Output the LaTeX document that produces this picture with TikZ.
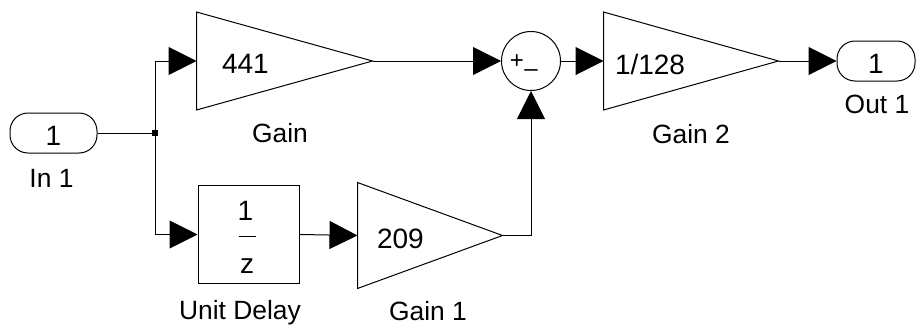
\documentclass[tikz,border=0pt]{standalone}
\usepackage{fontspec}
\setmainfont{Liberation Sans}
\usetikzlibrary{arrows.meta}
\begin{document}
\begin{tikzpicture}[x=0.5pt,y=-0.5pt,line width=0.5pt,
  arr/.style={-{Triangle[length=14pt,width=14pt]}},
  blockbox/.style={inner sep=0pt,draw=none},
  blocktext/.style={inner sep=0pt,font=\fontsize{14}{16}\selectfont},
  port/.style={draw,rounded corners=9pt,inner sep=0pt,minimum height=20pt,font=\fontsize{14}{16}\selectfont},
  lbl/.style={inner sep=0pt,anchor=base,font=\fontsize{13.2}{15}\selectfont},
  sgn/.style={inner sep=0pt,font=\fontsize{12}{14}\selectfont}]
\useasboundingbox (0,0) rectangle (917,327);

% inport
\node[port,minimum width=43.5pt] (in1) at (53.5,133) {};
\node[blocktext,yshift=-1.5pt] (in1txt) at (in1.center) {1};
\node[lbl] (in1lbl) at (51.5,187) {In 1};

% junction
\node[fill,inner sep=0pt,minimum size=3pt] (j) at (155,133) {};

% Gain
\node[blockbox,minimum width=87.5pt,minimum height=48.5pt] (gain) at (284.5,61) {};
\draw (gain.north west) -- (gain.east) -- (gain.south west) -- cycle;
\node[blocktext,anchor=west,xshift=12.5pt,yshift=-1.2pt] (gaintxt) at (gain.west) {441};
\node[lbl] (gainlbl) at (280,142) {Gain};

% Unit delay
\node[draw,inner sep=0pt,minimum width=50.5pt,minimum height=49pt] (delay) at (248.5,234.5) {};
\node[blocktext] (dnum) at (245.5,210.5) {1};
\draw (238.5,236) -- (256,236);
\node[blocktext] (dden) at (247,266) {z};
\node[lbl] (delaylbl) at (240,319) {Unit Delay};

% Gain 1
\node[blockbox,minimum width=72pt,minimum height=52.5pt] (gain1) at (430,235.5) {};
\draw (gain1.north west) -- (gain1.east) -- (gain1.south west) -- cycle;
\node[blocktext,anchor=west,xshift=9.5pt,yshift=-1.5pt] (gain1txt) at (gain1.west) {209};
\node[lbl] (gain1lbl) at (428,320) {Gain 1};

% Sum
\node[draw,circle,inner sep=0pt,minimum size=29.5pt] (sum) at (531,61) {};
\node[sgn] (splus) at (517,62) {+};
\node[sgn] (sminus) at (531,73) {–};

% Gain 2
\node[blockbox,minimum width=87pt,minimum height=48.5pt] (gain2) at (691,61) {};
\draw (gain2.north west) -- (gain2.east) -- (gain2.south west) -- cycle;
\node[blocktext,anchor=west,xshift=5.5pt,yshift=-1.5pt] (gain2txt) at (gain2.west) {1/128};
\node[lbl] (gain2lbl) at (691,143) {Gain 2};

% outport
\node[port,minimum width=39pt] (out1) at (876,61) {};
\node[blocktext,yshift=-1.5pt] (out1txt) at (out1.center) {1};
\node[lbl] (out1lbl) at (877,113) {Out 1};

% connectors
\draw (in1.east) -- (j.center);
\draw[arr] (j.center) |- (gain.west);
\draw[arr] (j.center) |- (delay.west);
\draw[arr] (gain.east) -- (sum.west);
\draw[arr] (delay.east) -- (gain1.west);
\draw[arr] (gain1.east) -| (sum.south);
\draw[arr] (sum.east) -- (gain2.west);
\draw[arr] (gain2.east) -- (out1.west);
\end{tikzpicture}
\end{document}
